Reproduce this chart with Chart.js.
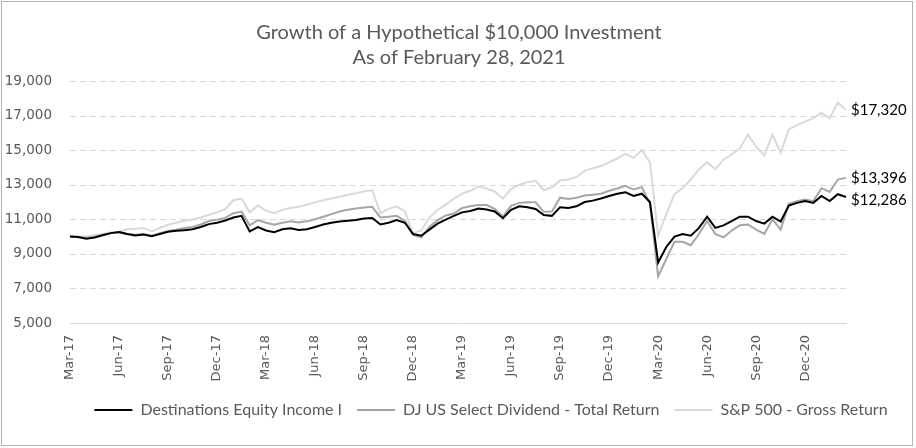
<!DOCTYPE html>
<html>
<head>
<meta charset="utf-8">
<title>Growth of a Hypothetical $10,000 Investment</title>
<script src="https://cdn.jsdelivr.net/npm/chart.js@4.4.1/dist/chart.umd.min.js"></script>
<style>
  html, body { margin: 0; padding: 0; background: #fff; }
  #frame {
    position: absolute; left: 1px; top: 1px;
    width: 912px; height: 445px;
    border: 1px solid #b4b4b4; box-sizing: border-box;
  }
  #frame canvas { display: block; }
</style>
</head>
<body>
<div id="frame"><canvas id="growthChart" width="910" height="443"></canvas></div>
<script>
// --- data (about two points per month, Mar-17 .. Feb-21) ---
const titleLines = ["Growth of a Hypothetical $10,000 Investment", "As of February 28, 2021"];
const tickLabels = ["Mar-17", "Jun-17", "Sep-17", "Dec-17", "Mar-18", "Jun-18", "Sep-18", "Dec-18",
                    "Mar-19", "Jun-19", "Sep-19", "Dec-19", "Mar-20", "Jun-20", "Sep-20", "Dec-20"];
const seriesNames = ["Destinations Equity Income I", "DJ US Select Dividend - Total Return", "S&P 500 - Gross Return"];
const seriesColors = ["#000000", "#a6a6a6", "#d9d9d9"];

const equityIncome = [10000, 9980, 9880, 9950, 10080, 10200, 10260, 10150, 10060, 10120,
  10020, 10150, 10280, 10330, 10370, 10420, 10550, 10720, 10800, 10930,
  11100, 11200, 10300, 10550, 10350, 10250, 10420, 10480, 10380, 10420,
  10550, 10700, 10800, 10870, 10920, 10960, 11050, 11080, 10700, 10800,
  10950, 10800, 10150, 10050, 10400, 10750, 10980, 11200, 11400, 11480,
  11620, 11560, 11450, 11060, 11550, 11750, 11700, 11600, 11250, 11200,
  11700, 11650, 11750, 12000, 12080, 12200, 12350, 12480, 12560, 12350,
  12480, 12000, 8500, 9400, 10000, 10150, 10050, 10500, 11150, 10500,
  10650, 10900, 11150, 11150, 10900, 10750, 11150, 10870, 11800, 11950,
  12050, 11950, 12350, 12050, 12450, 12286];

const selectDividend = [10000, 9970, 9920, 9980, 10100, 10200, 10250, 10150, 10100, 10150,
  10050, 10200, 10320, 10400, 10500, 10560, 10700, 10900, 10980, 11080,
  11350, 11450, 10650, 10950, 10800, 10680, 10800, 10880, 10820, 10880,
  11000, 11150, 11300, 11450, 11550, 11620, 11680, 11720, 11100, 11150,
  11200, 10900, 10100, 9950, 10550, 10950, 11220, 11330, 11650, 11750,
  11820, 11820, 11600, 11150, 11780, 11950, 11980, 11980, 11430, 11450,
  12250, 12180, 12250, 12380, 12420, 12480, 12650, 12780, 12940, 12720,
  12860, 11900, 7700, 8700, 9700, 9700, 9500, 10150, 10900, 10150,
  9950, 10350, 10650, 10700, 10400, 10150, 11000, 10400, 11900, 12050,
  12150, 12050, 12800, 12580, 13300, 13396];

const sp500 = [10000, 9990, 10020, 10080, 10150, 10230, 10280, 10420, 10450, 10500,
  10300, 10500, 10680, 10800, 10920, 10990, 11100, 11260, 11400, 11580,
  12100, 12200, 11400, 11800, 11500, 11350, 11550, 11650, 11720, 11850,
  11980, 12100, 12200, 12300, 12420, 12500, 12620, 12680, 11350, 11600,
  11750, 11450, 10200, 10350, 11100, 11550, 11850, 12200, 12480, 12650,
  12900, 12780, 12600, 12200, 12750, 13000, 13150, 13220, 12680, 12850,
  13250, 13300, 13450, 13800, 13950, 14080, 14300, 14520, 14780, 14550,
  15000, 14300, 10050, 11300, 12450, 12800, 13300, 13900, 14300, 13900,
  14450, 14750, 15100, 15900, 15200, 14700, 15900, 14850, 16200, 16450,
  16650, 16850, 17150, 16850, 17750, 17320];

const periods = equityIncome.map((_, i) => i);   // one category per half month
const labelEvery = 6;                              // a quarter = 6 periods

// dashed horizontal grid (skips the 5,000 baseline, which is the solid x border)
const dashedGrid = {
  id: "dashedGrid",
  beforeDatasetsDraw(chart, args, opts) {
    const { ctx, chartArea, scales } = chart;
    const yScale = scales.y;
    ctx.save();
    ctx.strokeStyle = opts.color;
    ctx.lineWidth = 1;
    ctx.setLineDash(opts.dash);
    yScale.ticks.forEach((t) => {
      if (t.value === yScale.min) return;
      const y = Math.round(yScale.getPixelForValue(t.value)) + 0.5;
      ctx.beginPath();
      ctx.moveTo(chartArea.left, y);
      ctx.lineTo(chartArea.right, y);
      ctx.stroke();
    });
    ctx.restore();
  }
};

// end-of-line value labels ($17,320 etc.)
const endLabels = {
  id: "endLabels",
  afterDatasetsDraw(chart, args, opts) {
    const { ctx, chartArea, scales } = chart;
    ctx.save();
    ctx.font = opts.font;
    ctx.fillStyle = opts.color;
    ctx.textAlign = "left";
    ctx.textBaseline = "middle";
    chart.data.datasets.forEach((ds, i) => {
      const v = ds.data[ds.data.length - 1];
      const y = scales.y.getPixelForValue(v) + (opts.nudge[i] || 0);
      ctx.fillText("$" + v.toLocaleString("en-US"), chartArea.right + opts.gap, y);
    });
    ctx.restore();
  }
};

// title and legend are centred a bit further right than chart.js puts them
const boxShift = {
  id: "boxShift",
  afterLayout(chart, args, opts) {
    chart.titleBlock.left += opts.title;
    chart.titleBlock.right += opts.title;
    chart.legend.left += opts.legend;
    chart.legend.right += opts.legend;
  }
};

const ctx = document.getElementById("growthChart").getContext("2d");
new Chart(ctx, {
  type: "line",
  data: {
    labels: periods,
    datasets: [
      { label: seriesNames[0], data: equityIncome, borderColor: seriesColors[0], backgroundColor: seriesColors[0] },
      { label: seriesNames[1], data: selectDividend, borderColor: seriesColors[1], backgroundColor: seriesColors[1] },
      { label: seriesNames[2], data: sp500, borderColor: seriesColors[2], backgroundColor: seriesColors[2] }
    ]
  },
  options: {
    responsive: false,
    animation: false,
    elements: {
      line: { borderWidth: 2, tension: 0 },
      point: { radius: 0 }
    },
    layout: { padding: { left: 0, right: 66, top: 0, bottom: 17 } },
    scales: {
      x: {
        type: "category",
        offset: false,
        grid: { display: false, drawTicks: false },
        border: { display: true, color: "#d9d9d9", width: 1 },
        afterFit: (scale) => { scale.height = 64; },
        ticks: {
          autoSkip: false,
          minRotation: 90,
          maxRotation: 90,
          padding: 12,
          color: "#595959",
          font: { family: "DejaVu Sans", size: 13 },
          callback: (val, idx) => (idx % labelEvery === 0 ? tickLabels[idx / labelEvery] || "" : "")
        }
      },
      y: {
        min: 5000,
        max: 19000,
        grid: { display: false, drawTicks: false },
        border: { display: false },
        afterFit: (scale) => { scale.width = 68; },
        ticks: {
          stepSize: 2000,
          padding: 18,
          color: "#595959",
          font: { family: "DejaVu Sans", size: 13.5 },
          callback: (v) => v.toLocaleString("en-US")
        }
      }
    },
    plugins: {
      title: {
        display: true,
        text: titleLines,
        color: "#595959",
        font: { family: "Lato", size: 20, weight: "normal", lineHeight: 1.25 },
        padding: { top: 18, bottom: 11 }
      },
      legend: {
        position: "bottom",
        labels: {
          boxWidth: 38,
          boxHeight: 2,
          padding: 15,
          color: "#595959",
          font: { family: "Lato", size: 16 },
          generateLabels: (chart) => chart.data.datasets.map((ds, i) => ({
            text: ds.label,
            fillStyle: ds.borderColor,
            strokeStyle: ds.borderColor,
            lineWidth: 0,
            fontColor: "#595959",
            hidden: false,
            datasetIndex: i
          }))
        }
      },
      tooltip: { enabled: false },
      dashedGrid: { color: "#d9d9d9", dash: [6, 4] },
      endLabels: { font: "15px Lato", color: "#000000", gap: 5, nudge: [3, 0, 0] },
      boxShift: { title: 35, legend: 67 }
    }
  },
  plugins: [dashedGrid, endLabels, boxShift]
});
</script>
</body>
</html>
